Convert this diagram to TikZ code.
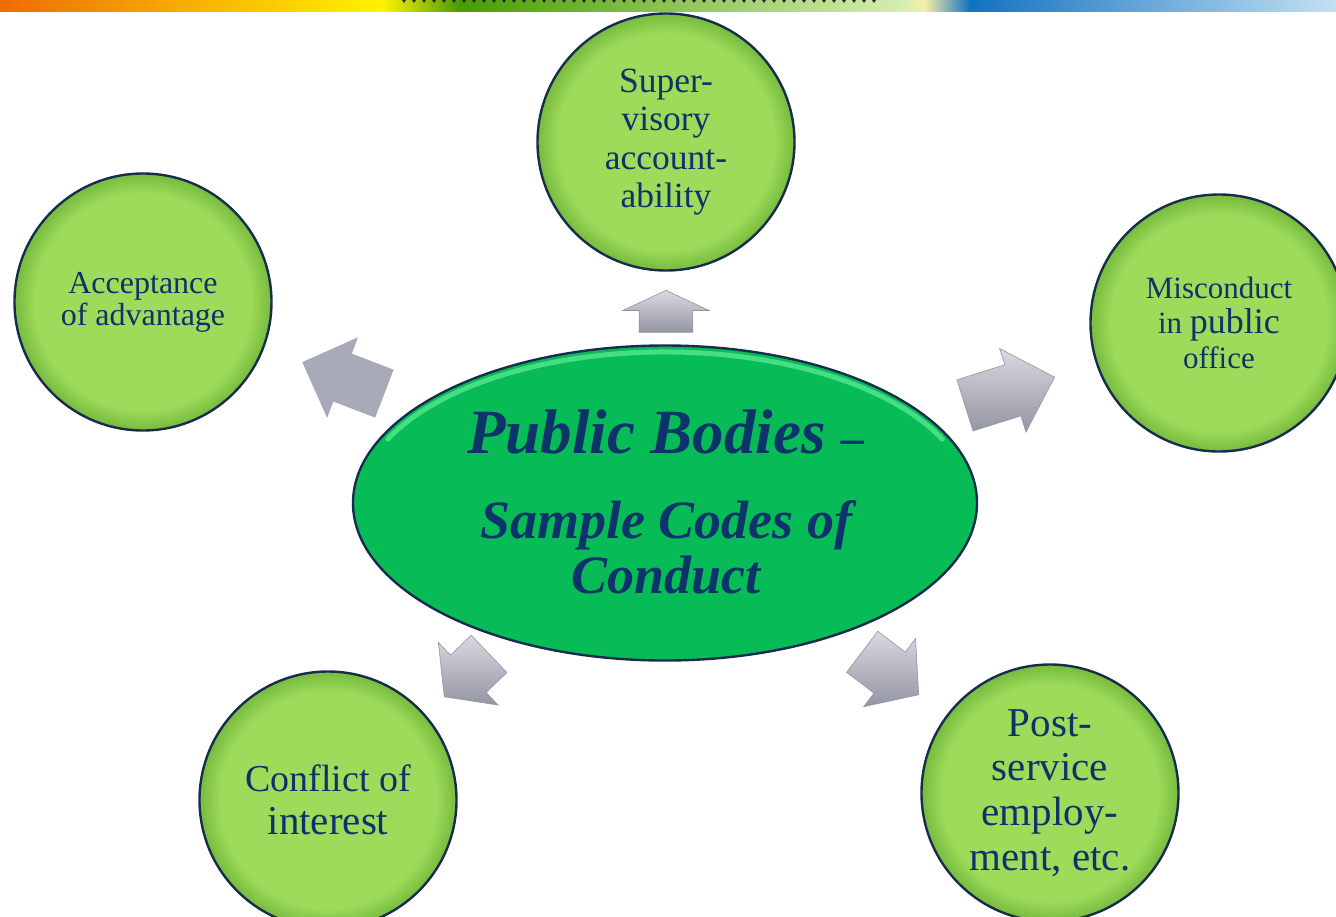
\documentclass[tikz,border=0pt]{standalone}
\usepackage{fontspec}
\setmainfont{Liberation Serif}
\usepackage{xcolor}
\usepackage{tikz}
\usetikzlibrary{shapes.geometric,shapes.arrows}

\definecolor{inkblue}{RGB}{13,51,107}
\definecolor{discgreen}{RGB}{158,219,90}
\definecolor{discrim}{RGB}{122,190,64}
\definecolor{rimnavy}{RGB}{24,44,78}
\definecolor{hubgreen}{RGB}{7,188,86}
\definecolor{hubglow}{RGB}{70,222,132}
\definecolor{steellight}{RGB}{216,217,224}
\definecolor{steeldark}{RGB}{148,149,163}
\definecolor{steelflat}{RGB}{168,170,185}
\definecolor{barorange}{RGB}{238,108,0}
\definecolor{baryellow}{RGB}{255,243,0}
\definecolor{bargreen}{RGB}{72,158,0}
\definecolor{barlight}{RGB}{214,238,176}
\definecolor{barcream}{RGB}{246,238,170}
\definecolor{barblue}{RGB}{18,114,194}
\definecolor{barsky}{RGB}{196,224,242}
\definecolor{barmark}{RGB}{40,40,40}

\pgfdeclareradialshading{discshade}{\pgfpoint{0bp}{0bp}}{color(0bp)=(discgreen); color(21bp)=(discgreen); color(24.6bp)=(discrim); color(50bp)=(discrim)}
\pgfdeclarehorizontalshading{barshade}{100bp}{color(0bp)=(barorange); color(25bp)=(barorange); color(39.3bp)=(baryellow); color(42.2bp)=(bargreen); color(58.8bp)=(barlight); color(59.6bp)=(barcream); color(61.3bp)=(barblue); color(75bp)=(barsky); color(100bp)=(barsky)}

\begin{document}
\begin{tikzpicture}[x=1pt,y=-1pt]
	\tikzstyle{topic} = [circle, draw=rimnavy, line width=2.4pt, shade, shading=discshade, minimum size=257pt, inner sep=0pt, align=center, text=inkblue]
	\tikzstyle{hub} = [ellipse, draw=rimnavy, line width=2.4pt, fill=hubgreen, minimum width=624pt, minimum height=315pt, inner sep=0pt]
	\tikzstyle{pointer} = [single arrow, draw=steeldark, line width=0.6pt, top color=steellight, bottom color=steeldark, minimum width=0pt, inner xsep=0pt, anchor=tip]
	\tikzstyle{flatpointer} = [single arrow, fill=steelflat, minimum width=0pt, inner xsep=0pt, anchor=tip]
	\tikzset{glow/.style = {draw=hubglow, line width=5pt, line cap=round}}

	% top bar
	\shade[shading=barshade] (0,0) rectangle (1336,11);
	\foreach \x in {404,414,...,874}
		\fill[barmark] (\x-2,0) -- (\x+2,0) -- (\x,3) -- cycle;

	\useasboundingbox (0,0) rectangle (1336,916);

	\node[hub](bodies) at (665,503) {};
	\draw[glow] ([shift={(205:306 and 151)}]bodies.center) arc[start angle=205, end angle=335, x radius=306, y radius=151];
	\node[text=inkblue, inner sep=0pt](title) at (666,502) {\parbox{430pt}{\centering\bfseries\itshape\fontsize{54}{55}\selectfont{\fontsize{63}{55}\selectfont Public Bodies {\fontsize{46}{55}\selectfont –}}\\[30pt]Sample Codes of\\Conduct}};

	\node[topic, font=\fontsize{35.5}{38.5}\selectfont](supervision) at (666,142) {Super-\\visory\\account-\\ability};
	\node[topic, font=\fontsize{32}{32}\selectfont](advantage) at (143,302) {Acceptance\\of advantage};
	\node[topic, font=\fontsize{31}{35}\selectfont](misconduct) at (1219,323) {Misconduct\\in {\fontsize{36}{35}\selectfont public}\\office};
	\node[topic, font=\fontsize{38}{43}\selectfont](conflict) at (328,800) {Conflict of\\{\fontsize{41}{43}\selectfont interest}};
	\node[topic, font=\fontsize{41}{44.6}\selectfont](postservice) at (1050,793) {Post-\\service\\employ-\\ment, etc.};

	\node[pointer, inner ysep=26.5pt, single arrow head extend=16.5pt, single arrow tip angle=130, minimum height=42pt, rotate=90](arrow1) at (666,290) {};
	\node[flatpointer, inner ysep=25.5pt, single arrow head extend=17.5pt, single arrow tip angle=90, minimum height=88pt, rotate=159](arrow2) at (302,362) {};
	\node[pointer, inner ysep=26.5pt, single arrow head extend=17pt, single arrow tip angle=90, minimum height=94pt, rotate=17.5](arrow3) at (1055,377) {};
	\node[pointer, inner ysep=25.5pt, single arrow head extend=17.5pt, single arrow tip angle=105, minimum height=62pt, rotate=223.7](arrow4) at (444,697) {};
	\node[pointer, inner ysep=25.5pt, single arrow head extend=17pt, single arrow tip angle=99, minimum height=71pt, rotate=-37.3](arrow5) at (919,695) {};
\end{tikzpicture}
\end{document}
